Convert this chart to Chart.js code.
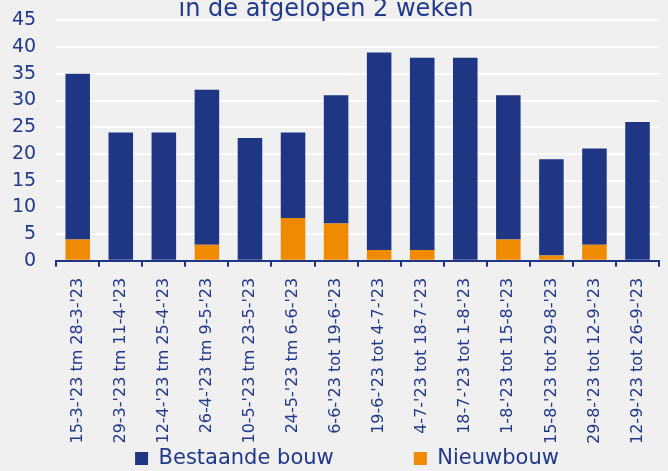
<!DOCTYPE html>
<html><head><meta charset="utf-8">
<script src="https://cdn.jsdelivr.net/npm/chart.js@4/dist/chart.umd.min.js"></script>
<style>
html,body{margin:0;padding:0;background:#f0f0f0;overflow:hidden;}
#wrap{position:relative;width:668px;height:471px;overflow:hidden;}
#c{position:absolute;left:0;top:-11px;}
</style></head><body>
<div id="wrap"><canvas id="c" width="668" height="490"></canvas></div>
<script>
const categories = ["15-3-'23 tm 28-3-'23","29-3-'23 tm 11-4-'23","12-4-'23 tm 25-4-'23","26-4-'23 tm 9-5-'23","10-5-'23 tm 23-5-'23","24-5-'23 tm 6-6-'23","6-6-'23 tot 19-6-'23","19-6-'23 tot 4-7-'23","4-7-'23 tot 18-7-'23","18-7-'23 tot 1-8-'23","1-8-'23 tot 15-8-'23","15-8-'23 tot 29-8-'23","29-8-'23 tot 12-9-'23","12-9-'23 tot 26-9-'23"];
const bestaandeBouw = [31,24,24,29,23,16,24,37,36,38,27,18,18,26];
const nieuwbouw = [4,0,0,3,0,8,7,2,2,0,4,1,3,0];
const yTicks = [0,5,10,15,20,25,30,35,40,45];
const titleText = "in de afgelopen 2 weken";

const BLUE = '#1f3685', ORANGE = '#f08a00', TXT = '#21398a';
const FONT = "'DejaVu Sans', sans-serif";

const bg = {id:'bg', beforeDraw(ch){const c=ch.ctx;c.save();c.fillStyle='#f0f0f0';c.fillRect(0,0,ch.width,ch.height);c.restore();}};
const LEG_TRIM = 7;
const legendTweak = {
  id:'legendTweak',
  afterInit(ch){
    const lg = ch.legend;
    if(lg && !lg._tweaked){
      const f = lg.fit.bind(lg);
      lg.fit = function(){ f(); this.height = Math.max(0, this.height - LEG_TRIM); };
      lg._tweaked = true;
    }
  },
  afterLayout(ch){
    const lg = ch.legend;
    if(lg){ lg.left += 21; lg.right += 21; lg.top -= LEG_TRIM; }
  }
};

new Chart(document.getElementById('c'), {
  type:'bar',
  data:{labels:categories, datasets:[
    {label:'Nieuwbouw', data:nieuwbouw, backgroundColor:ORANGE, borderWidth:0, barPercentage:0.57, categoryPercentage:1},
    {label:'Bestaande bouw', data:bestaandeBouw, backgroundColor:BLUE, borderWidth:0, barPercentage:0.57, categoryPercentage:1}
  ]},
  options:{
    responsive:false, animation:false, devicePixelRatio:1,
    layout:{padding:{left:-8,right:8,top:0,bottom:0}},
    plugins:{
      title:{display:true,text:titleText,color:TXT,font:{family:FONT,size:24,weight:'normal',lineHeight:'22px'},padding:{top:0,bottom:0}},
      legend:{position:'bottom',reverse:true,
        labels:{color:TXT,font:{family:FONT,size:21,lineHeight:1},boxWidth:13,boxHeight:13,padding:0,
          generateLabels(ch){
            const items = Chart.defaults.plugins.legend.labels.generateLabels(ch);
            items.forEach(it=>{ if(it.text==='Bestaande bouw') it.text = it.text + '            '; });
            return items;
          }}},
      tooltip:{enabled:false}
    },
    scales:{
      x:{stacked:true,
        grid:{offset:true,drawOnChartArea:false,drawTicks:true,tickLength:6,color:BLUE,lineWidth:2},
        border:{display:true,color:BLUE,width:2},
        ticks:{color:TXT,font:{family:FONT,size:16},minRotation:90,maxRotation:90,autoSkip:false,padding:11}},
      y:{stacked:true,min:0,max:45,
        afterBuildTicks(ax){ax.ticks=yTicks.map(v=>({value:v}));},
        grid:{color:'#ffffff',lineWidth:2,drawTicks:false},
        border:{display:false},
        ticks:{color:TXT,font:{family:FONT,size:19},padding:20,autoSkip:false}}
    }
  },
  plugins:[bg, legendTweak]
});
</script></body></html>
